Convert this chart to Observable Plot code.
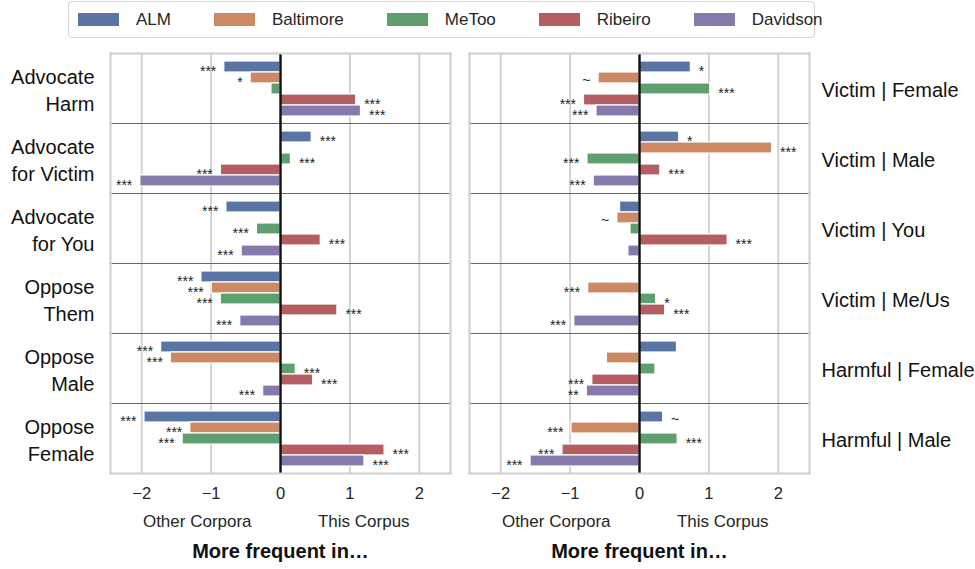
<!DOCTYPE html>
<html>
<head>
<meta charset="utf-8">
<script src="https://cdn.jsdelivr.net/npm/d3@7"></script>
<script src="https://cdn.jsdelivr.net/npm/@observablehq/plot@0.6"></script>
<style>
  body { margin: 0; background: #fff; font-family: "Liberation Sans", Arial, sans-serif; }
  #wrap { position: relative; width: 975px; height: 569px; overflow: hidden; background: #fff; }
  #wrap svg { position: absolute; top: 0; }
  #legend { position: absolute; left: 68px; top: 1px; width: 736px; height: 35px;
            border: 1px solid #d4d4d4; border-radius: 4px; display: flex; align-items: center;
            padding-left: 9px; box-sizing: content-box; color: #262626; font-size: 17px; }
  #legend .item { display: flex; align-items: center; margin-right: 43px; }
  #legend .sw { width: 41px; height: 13px; margin-right: 17px; }
</style>
</head>
<body>
<div id="wrap"></div>
<script>
// ---------- data ----------
const series = ["ALM", "Baltimore", "MeToo", "Ribeiro", "Davidson"];
const colors = ["#5975a4", "#cc8963", "#5f9e6e", "#b55d60", "#857aab"];

const leftRows = ["Advocate\nHarm", "Advocate\nfor Victim", "Advocate\nfor You", "Oppose\nThem", "Oppose\nMale", "Oppose\nFemale"];
const rightRows = ["Victim | Female", "Victim | Male", "Victim | You", "Victim | Me/Us", "Harmful | Female", "Harmful | Male"];

// values per series (order of `series`), one entry per row
const leftALM       = [-0.81,  0.45, -0.78, -1.14, -1.72, -1.96];
const leftBaltimore = [-0.43, -0.02,  null, -0.99, -1.58, -1.30];
const leftMeToo     = [-0.13,  0.15, -0.34, -0.86,  0.22, -1.41];
const leftRibeiro   = [ 1.09, -0.86,  0.58,  0.82,  0.47,  1.50];
const leftDavidson  = [ 1.16, -2.02, -0.56, -0.58, -0.25,  1.21];

const leftSigALM       = ["***", "***", "***", "***", "***", "***"];
const leftSigBaltimore = ["*",   "",    "",    "***", "***", "***"];
const leftSigMeToo     = ["",    "***", "***", "***", "***", "***"];
const leftSigRibeiro   = ["***", "***", "***", "***", "***", "***"];
const leftSigDavidson  = ["***", "***", "***", "***", "***", "***"];

const rightALM       = [ 0.74,  0.57, -0.28,  null,  0.54,  0.34];
const rightBaltimore = [-0.59,  1.91, -0.32, -0.74, -0.47, -0.98];
const rightMeToo     = [ 1.02, -0.75, -0.13,  0.24,  0.23,  0.55];
const rightRibeiro   = [-0.80,  0.30,  1.27,  0.37, -0.68, -1.11];
const rightDavidson  = [-0.62, -0.66, -0.16, -0.94, -0.76, -1.57];

const rightSigALM       = ["*",   "*",   "",    "",    "",    "~"];
const rightSigBaltimore = ["~",   "***", "~",   "***", "",    "***"];
const rightSigMeToo     = ["***", "***", "",    "*",   "",    "***"];
const rightSigRibeiro   = ["***", "***", "***", "***", "***", "***"];
const rightSigDavidson  = ["***", "***", "",    "***", "**",  "***"];

const xTicks = [-2, -1, 0, 1, 2];
const sideTicks = [-1.2, 1.2];
const sideLabels = ["Other Corpora", "This Corpus"];
const xTitle = "More frequent in…";

// ---------- build tidy tables ----------
function tidy(rows, valueLists, sigLists) {
  const out = [];
  rows.forEach((row, i) => {
    series.forEach((s, j) => {
      const v = valueLists[j][i];
      if (v != null) out.push({row, series: s, value: v, sig: sigLists[j][i]});
    });
  });
  return out;
}
const leftData = tidy(leftRows,
  [leftALM, leftBaltimore, leftMeToo, leftRibeiro, leftDavidson],
  [leftSigALM, leftSigBaltimore, leftSigMeToo, leftSigRibeiro, leftSigDavidson]);
const rightData = tidy(rightRows,
  [rightALM, rightBaltimore, rightMeToo, rightRibeiro, rightDavidson],
  [rightSigALM, rightSigBaltimore, rightSigMeToo, rightSigRibeiro, rightSigDavidson]);

function sigMarks(data) {
  const withSig = data.filter(d => d.sig);
  const common = {x: "value", y: "series", fy: "row", text: "sig", fontSize: 14, fill: "#222"};
  const neg = d => d.value < 0, tilde = d => d.sig === "~";
  return [
    Plot.text(withSig.filter(d => neg(d) && !tilde(d)), {...common, textAnchor: "end", dx: -8, dy: 4.6}),
    Plot.text(withSig.filter(d => neg(d) && tilde(d)), {...common, textAnchor: "end", dx: -8, dy: 2.5}),
    Plot.text(withSig.filter(d => !neg(d) && !tilde(d)), {...common, textAnchor: "start", dx: 8, dy: 4.6}),
    Plot.text(withSig.filter(d => !neg(d) && tilde(d)), {...common, textAnchor: "start", dx: 8, dy: 2.5})
  ];
}

function panel(rows, data, isLeft) {
  return Plot.plot({
    width: isLeft ? 460 : 516,
    height: 569,
    marginLeft: isLeft ? 110 : 10,
    marginRight: isLeft ? 10 : 166,
    marginTop: 51,
    marginBottom: 95,
    style: {fontFamily: "'Liberation Sans', Arial, sans-serif", color: "#262626", background: "transparent", overflow: "visible"},
    x: {domain: [-2.45, 2.45]},
    y: {domain: series, paddingInner: 0, paddingOuter: 0.625, axis: null},
    fy: {domain: rows, padding: 0},
    color: {domain: series, range: colors},
    marks: [
      Plot.gridX(xTicks, {stroke: "#cfcfcf", strokeOpacity: 1, strokeWidth: 1.8}),
      Plot.frame({anchor: "bottom", stroke: "#6a6a6a", strokeWidth: 1.2}),
      Plot.barX(data, {x: "value", y: "series", fy: "row", fill: "series", stroke: "white", strokeWidth: 1.2}),
      Plot.ruleX([0], {stroke: "#111", strokeWidth: 2.4}),
      ...sigMarks(data),
      Plot.frame({anchor: "bottom", stroke: "#cfcfcf", strokeWidth: 2, facetAnchor: "bottom"}),
      Plot.frame({anchor: "top", stroke: "#cfcfcf", strokeWidth: 2, facetAnchor: "top"}),
      Plot.frame({anchor: "left", stroke: "#cfcfcf", strokeWidth: 2}),
      Plot.frame({anchor: "right", stroke: "#cfcfcf", strokeWidth: 2}),
      Plot.axisX(xTicks, {tickSize: 0, tickPadding: 14, fontSize: 16.5, label: null, fill: "#262626"}),
      Plot.axisX(sideTicks, {tickSize: 0, tickPadding: 41, fontSize: 17, label: null, fill: "#262626",
                             tickFormat: d => sideLabels[sideTicks.indexOf(d)]}),
      Plot.axisX([0], {tickSize: 0, tickPadding: 70, fontSize: 20, fontWeight: "bold", label: null, fill: "#111",
                       tickFormat: () => xTitle}),
      Plot.axisFy({anchor: isLeft ? "left" : "right", tickSize: 0, tickPadding: isLeft ? 16 : 12,
                   fontSize: 20, lineHeight: 1.35, label: null, fill: "#111"})
    ]
  });
}

const wrap = document.getElementById("wrap");
const left = panel(leftRows, leftData, true);
left.style.left = "0px";
wrap.appendChild(left);
const right = panel(rightRows, rightData, false);
right.style.left = "459px";
wrap.appendChild(right);

// legend
const legend = document.createElement("div");
legend.id = "legend";
series.forEach((s, i) => {
  const item = document.createElement("div");
  item.className = "item";
  const sw = document.createElement("div");
  sw.className = "sw";
  sw.style.background = colors[i];
  const lab = document.createElement("span");
  lab.textContent = s;
  item.appendChild(sw);
  item.appendChild(lab);
  legend.appendChild(item);
});
wrap.appendChild(legend);
</script>
</body>
</html>
